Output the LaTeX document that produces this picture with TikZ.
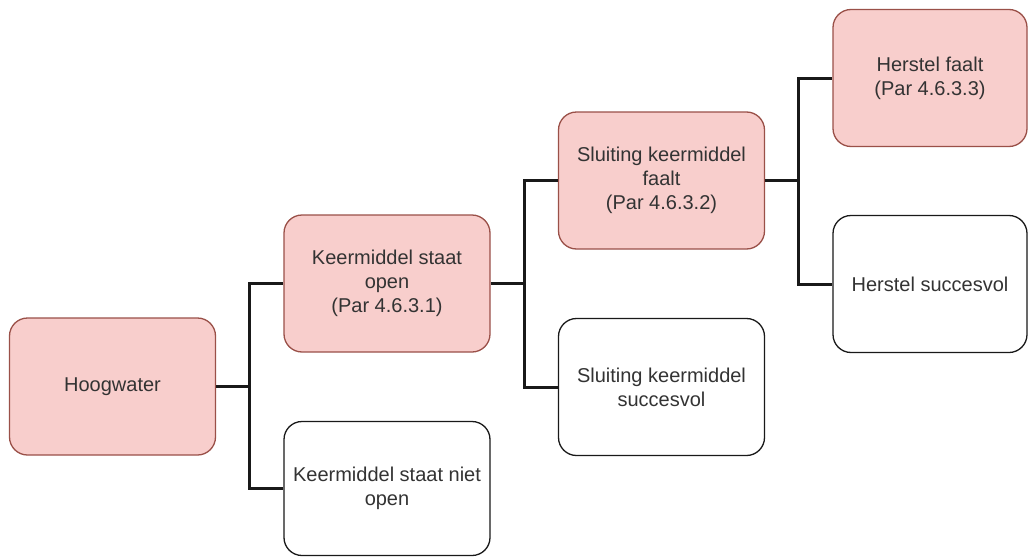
\documentclass[tikz,border=0pt]{standalone}
\usepackage{fontspec}
\setmainfont{Liberation Sans}
\definecolor{pinkfill}{HTML}{F8CECC}
\definecolor{pinkdraw}{HTML}{9A5048}
\definecolor{txt}{HTML}{333333}
\begin{document}
\begin{tikzpicture}[x=1pt,y=-1pt,
  box/.style={rectangle,rounded corners=18pt,line width=1.3pt,minimum width=206pt,minimum height=137pt,inner sep=0pt,align=center,text=txt,font=\fontsize{20}{24}\selectfont},
  fail/.style={box,fill=pinkfill,draw=pinkdraw},
  ok/.style={box,fill=white,draw=black!90},
  conn/.style={line width=3pt,draw=black!90}]
\useasboundingbox (0,0) rectangle (1029,557);
\node[fail] (H) at (112.5,386.5) {Hoogwater};
\node[fail] (KSO) at (387,283.5) {Keermiddel staat\\open\\(Par 4.6.3.1)};
\node[ok,minimum height=134pt] (KSNO) at (387,488.5) {Keermiddel staat niet\\open};
\node[fail] (SKF) at (661.5,180.5) {Sluiting keermiddel\\faalt\\(Par 4.6.3.2)};
\node[ok] (SKS) at (661.5,387) {Sluiting keermiddel\\succesvol};
\node[fail,minimum width=194pt] (HF) at (930,78) {Herstel faalt\\(Par 4.6.3.3)};
\node[ok,minimum width=194pt] (HS) at (930,284) {Herstel succesvol};
\coordinate (j1) at (249,386.5);
\coordinate (j2) at (524,283.5);
\coordinate (j3) at (798,180.5);
\draw[conn] (H.east) -- (j1);
\draw[conn] (j1) |- (KSO.west);
\draw[conn] (j1) |- (KSNO.west);
\draw[conn] (KSO.east) -- (j2);
\draw[conn] (j2) |- (SKF.west);
\draw[conn] (j2) |- (SKS.west);
\draw[conn] (SKF.east) -- (j3);
\draw[conn] (j3) |- (HF.west);
\draw[conn] (j3) |- (HS.west);
\end{tikzpicture}
\end{document}
